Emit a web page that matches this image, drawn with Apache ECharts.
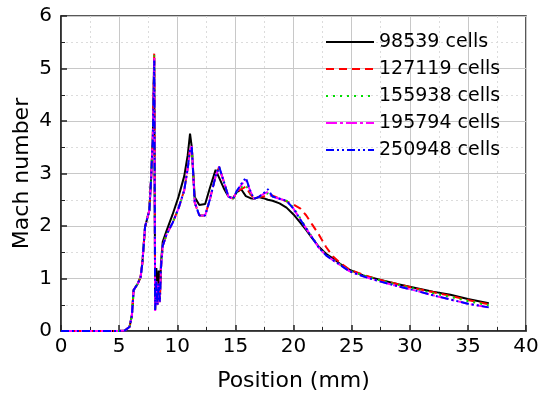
<!DOCTYPE html>
<html>
<head>
<meta charset="utf-8">
<script src="https://cdn.jsdelivr.net/npm/echarts@6/dist/echarts.min.js"></script>
<style>
  html, body { margin: 0; padding: 0; background: #fff; }
  #chart { width: 538px; height: 393px; }
</style>
</head>
<body>
<div id="chart"></div>
<script>
// x positions (mm), shared by all five meshes
const position = [0, 5, 5.5, 5.9, 6.1, 6.25, 6.6, 6.85, 7.0, 7.1, 7.23, 7.6, 7.75, 7.9, 8.02, 8.1,
  8.2, 8.3, 8.4, 8.5, 8.6, 8.75, 9.1, 9.6, 10.1, 10.6, 10.9, 11.1, 11.25, 11.5, 11.9, 12.4,
  12.8, 13.3, 13.6, 14.0, 14.4, 14.8, 15.1, 15.5, 15.9, 16.3, 16.6, 17.0, 17.4, 17.8, 18.2,
  18.8, 19.4, 20.0, 20.6, 21.1, 21.6, 22.2, 22.8, 23.4, 24.0, 24.8, 26, 27.5, 29, 30.5, 32,
  33.5, 35, 36.8];

const mach98539 = [0, 0, 0.01, 0.08, 0.3, 0.78, 0.9, 1.03, 1.3, 1.6, 1.98, 2.3, 2.9, 3.7, 5.2, 0.45,
  1.2, 0.7, 1.15, 0.6, 1.3, 1.7, 1.92, 2.22, 2.55, 2.95, 3.35, 3.76, 3.5, 2.55, 2.4, 2.42,
  2.72, 3.07, 2.92, 2.72, 2.56, 2.53, 2.64, 2.7, 2.57, 2.53, 2.52, 2.55, 2.53, 2.5, 2.48,
  2.43, 2.35, 2.22, 2.06, 1.92, 1.77, 1.6, 1.47, 1.38, 1.28, 1.17, 1.06, 0.97, 0.89, 0.82, 0.75,
  0.69, 0.61, 0.53];

const mach127119 = [0, 0, 0.01, 0.08, 0.3, 0.78, 0.9, 1.03, 1.3, 1.6, 1.98, 2.3, 2.9, 3.7, 5.3, 0.4,
  0.95, 0.5, 0.9, 0.55, 1.2, 1.62, 1.85, 2.06, 2.33, 2.68, 3.1, 3.45, 3.5, 2.45, 2.2, 2.2,
  2.5, 2.95, 3.12, 2.85, 2.56, 2.52, 2.64, 2.7, 2.75, 2.6, 2.53, 2.55, 2.56, 2.58, 2.58,
  2.52, 2.47, 2.41, 2.33, 2.2, 2.03, 1.83, 1.6, 1.42, 1.3, 1.17, 1.07, 0.97, 0.89, 0.81, 0.74,
  0.67, 0.59, 0.51];

const mach155938 = [0, 0, 0.01, 0.08, 0.3, 0.78, 0.9, 1.03, 1.3, 1.6, 1.98, 2.3, 2.9, 3.7, 5.25, 0.38,
  0.95, 0.5, 0.9, 0.55, 1.2, 1.62, 1.85, 2.06, 2.33, 2.68, 3.1, 3.45, 3.5, 2.45, 2.2, 2.2,
  2.5, 2.95, 3.13, 2.85, 2.56, 2.52, 2.64, 2.74, 2.78, 2.62, 2.52, 2.55, 2.6, 2.62, 2.56,
  2.52, 2.48, 2.35, 2.14, 1.96, 1.79, 1.59, 1.45, 1.36, 1.27, 1.15, 1.06, 0.96, 0.88, 0.8, 0.72,
  0.65, 0.57, 0.49];

const mach195794 = [0, 0, 0.01, 0.08, 0.3, 0.78, 0.9, 1.03, 1.3, 1.6, 1.98, 2.3, 2.9, 3.7, 5.2, 0.38,
  0.95, 0.5, 0.9, 0.55, 1.2, 1.62, 1.85, 2.06, 2.33, 2.68, 3.1, 3.45, 3.52, 2.45, 2.2, 2.2,
  2.5, 2.95, 3.13, 2.85, 2.56, 2.52, 2.65, 2.78, 2.88, 2.66, 2.52, 2.55, 2.61, 2.65, 2.56,
  2.52, 2.48, 2.33, 2.12, 1.95, 1.78, 1.58, 1.44, 1.35, 1.26, 1.14, 1.04, 0.94, 0.85, 0.77, 0.68,
  0.6, 0.52, 0.45];

const mach250948 = [0, 0, 0.01, 0.08, 0.3, 0.78, 0.9, 1.03, 1.3, 1.6, 1.98, 2.3, 2.9, 3.7, 5.15, 0.4,
  0.95, 0.5, 0.9, 0.55, 1.2, 1.62, 1.85, 2.06, 2.33, 2.68, 3.1, 3.45, 3.5, 2.45, 2.2, 2.2,
  2.5, 2.95, 3.13, 2.85, 2.56, 2.52, 2.66, 2.8, 2.92, 2.66, 2.52, 2.55, 2.62, 2.7, 2.56,
  2.52, 2.48, 2.33, 2.12, 1.95, 1.78, 1.58, 1.44, 1.35, 1.26, 1.14, 1.04, 0.94, 0.85, 0.77, 0.68,
  0.6, 0.52, 0.45];

const meshNames = ["98539 cells", "127119 cells", "155938 cells", "195794 cells", "250948 cells"];
const meshValues = [mach98539, mach127119, mach155938, mach195794, mach250948];
const lineColors = ["#000000", "#ff0000", "#00dd00", "#ff00ff", "#0000ff"];
const lineDashes = ["solid", [8, 5], [2, 5], [11, 3, 3, 3], [8, 3, 2, 3, 2, 3]];

const font = "DejaVu Sans";

const series = meshNames.map((name, k) => ({
  name,
  type: "line",
  symbol: "none",
  showSymbol: false,
  data: position.map((x, i) => [x, meshValues[k][i]]),
  lineStyle: { color: lineColors[k], width: 2, type: lineDashes[k] },
  itemStyle: { color: lineColors[k] },
}));

const chart = echarts.init(document.getElementById("chart"));
chart.setOption({
  animation: false,
  backgroundColor: "#fff",
  grid: {
    left: 61, right: 12, top: 16, bottom: 62,
    outerBoundsMode: "none",
    show: true, borderColor: "#222", borderWidth: 1.5,
  },
  legend: {
    left: 325, top: 32, orient: "vertical",
    itemWidth: 48, itemHeight: 14, itemGap: 7, padding: 0,
    itemStyle: { opacity: 0 },
    textStyle: { fontFamily: font, fontSize: 19, color: "#000", lineHeight: 20 },
    data: meshNames,
  },
  xAxis: {
    type: "value", min: 0, max: 40, interval: 5,
    name: "Position (mm)", nameLocation: "middle", nameGap: 39, nameMoveOverlap: false,
    nameTextStyle: { fontFamily: font, fontSize: 22, color: "#000" },
    axisLine: { lineStyle: { color: "#222", width: 1.5 } },
    axisTick: { inside: true, length: 6, lineStyle: { color: "#222", width: 1.5 } },
    minorTick: { show: true, splitNumber: 2, length: 4, lineStyle: { color: "#222" } },
    axisLabel: { fontFamily: font, fontSize: 20, color: "#000", margin: 6 },
    splitLine: { show: true, lineStyle: { color: "#c8c8c8", width: 1 } },
    minorSplitLine: { show: true, lineStyle: { color: "#dcdcdc", type: [2, 3] } },
  },
  yAxis: {
    type: "value", min: 0, max: 6, interval: 1,
    name: "Mach number", nameLocation: "middle", nameGap: 28, nameMoveOverlap: false,
    nameTextStyle: { fontFamily: font, fontSize: 22, color: "#000" },
    axisLine: { show: true, lineStyle: { color: "#222", width: 1.5 } },
    axisTick: { show: true, inside: true, length: 6, lineStyle: { color: "#222", width: 1.5 } },
    minorTick: { show: true, splitNumber: 2, length: 4, lineStyle: { color: "#222" } },
    axisLabel: { fontFamily: font, fontSize: 20, color: "#000", margin: 9 },
    splitLine: { show: true, lineStyle: { color: "#c8c8c8", width: 1 } },
    minorSplitLine: { show: true, lineStyle: { color: "#dcdcdc", type: [2, 3] } },
  },
  series,
});
</script>
</body>
</html>
